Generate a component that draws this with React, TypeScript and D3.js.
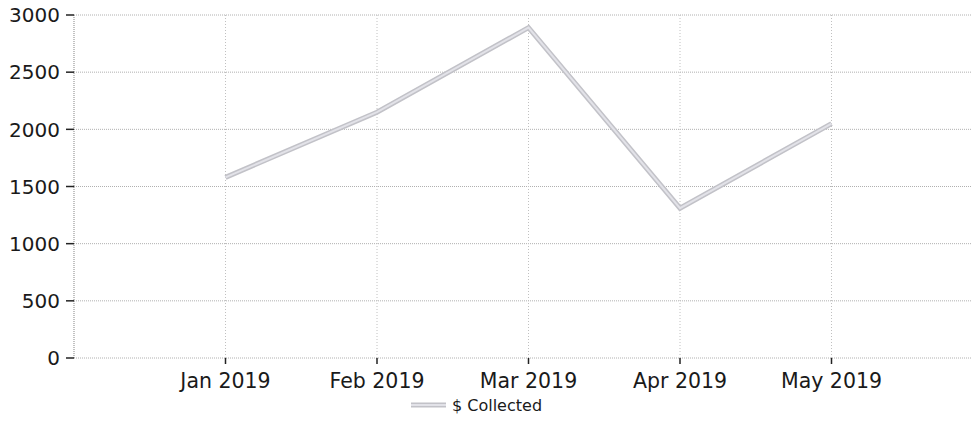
import React from "react";
import * as d3 from "d3";

const months: string[] = ["Jan 2019", "Feb 2019", "Mar 2019", "Apr 2019", "May 2019"];
const collected: number[] = [1580, 2150, 2890, 1310, 2050];
const yTicks: number[] = [0, 500, 1000, 1500, 2000, 2500, 3000];
const seriesName = "$ Collected";

const W = 972;
const H = 441;
const left = 74;
const top = 15;
const bottom = 358;

export default function App() {
  const x = d3.scalePoint<string>().domain(months).range([left, 983]).padding(1);
  const y = d3.scaleLinear().domain([0, 3000]).range([bottom, top]);
  const line = d3
    .line<number>()
    .x((_, i) => x(months[i]) as number)
    .y((d) => y(d));
  const path = line(collected) || "";
  const font = "'DejaVu Sans', Verdana, sans-serif";
  return (
    <svg
      width={W}
      height={H}
      style={{ position: "absolute", left: 0, top: 0, display: "block", background: "#fff" }}
    >
      {yTicks.map((t) => (
        <line
          key={"h" + t}
          x1={left}
          x2={W}
          y1={y(t)}
          y2={y(t)}
          stroke="#b0b0b0"
          strokeWidth={1}
          strokeDasharray="1,1"
        />
      ))}
      {months.map((m) => (
        <line
          key={"v" + m}
          x1={x(m)}
          x2={x(m)}
          y1={top}
          y2={bottom}
          stroke="#c0c0c0"
          strokeWidth={1}
          strokeDasharray="1,2"
        />
      ))}
      <line x1={left} x2={left} y1={top} y2={bottom} stroke="#999" strokeWidth={1.2} strokeDasharray="1,1" />
      {yTicks.map((t) => (
        <g key={"yt" + t}>
          <line x1={left - 8} x2={left} y1={y(t)} y2={y(t)} stroke="#222" strokeWidth={1.5} />
          <text
            x={left - 14}
            y={y(t)}
            dy="0.36em"
            textAnchor="end"
            fontFamily={font}
            fontSize={20}
            fill="#1a1a1a"
          >
            {t}
          </text>
        </g>
      ))}
      {months.map((m) => (
        <g key={"xt" + m}>
          <line x1={x(m)} x2={x(m)} y1={bottom} y2={bottom + 6} stroke="#222" strokeWidth={1.5} />
          <text
            x={x(m)}
            y={bottom + 30}
            textAnchor="middle"
            fontFamily={font}
            fontSize={20.5}
            fill="#1a1a1a"
          >
            {m}
          </text>
        </g>
      ))}
      <path d={path} fill="none" stroke="#c2c2c8" strokeWidth={5} strokeLinejoin="miter" />
      <path d={path} fill="none" stroke="#e2e2e8" strokeWidth={2} strokeLinejoin="miter" />
      <g>
        <line x1={411} x2={446} y1={405} y2={405} stroke="#c2c2c8" strokeWidth={5} />
        <line x1={411} x2={446} y1={405} y2={405} stroke="#e2e2e8" strokeWidth={2} />
        <text x={452} y={405} dy="0.36em" fontFamily={font} fontSize={16} fill="#1a1a1a">
          {seriesName}
        </text>
      </g>
    </svg>
  );
}
